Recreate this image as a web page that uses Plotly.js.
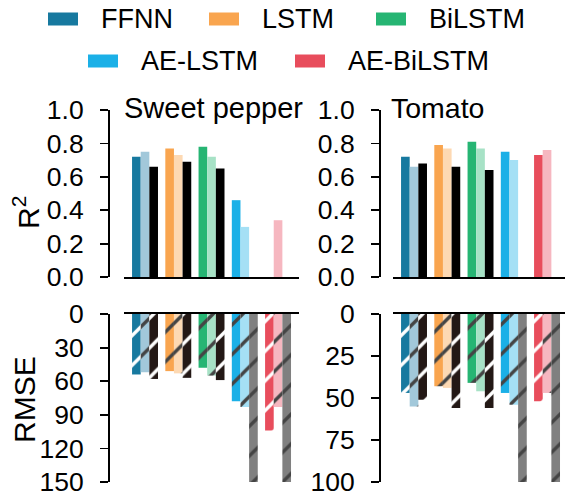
<!DOCTYPE html>
<html>
<head>
<meta charset="utf-8">
<script src="https://cdn.plot.ly/plotly-3.0.1.min.js"></script>
<style>
  html, body { margin: 0; padding: 0; background: #fff; }
  #chart { width: 565px; height: 498px; }
</style>
</head>
<body>
<div id="chart"></div>
<script>
// Model names (one bar group per model)
const models = ['FFNN', 'LSTM', 'BiLSTM', 'AE-LSTM', 'AE-BiLSTM'];
const crops = ['Sweet pepper', 'Tomato'];

// R² per model — three variants per model (A, B, C)
const r2PepperA = [0.72, 0.77, 0.78, 0.46, -0.20];
const r2PepperB = [0.75, 0.73, 0.72, 0.30, 0.34];
const r2PepperC = [0.66, 0.69, 0.65, -0.50, -0.50];
const r2TomatoA = [0.72, 0.79, 0.81, 0.75, 0.73];
const r2TomatoB = [0.66, 0.77, 0.77, 0.70, 0.76];
const r2TomatoC = [0.68, 0.66, 0.64, -0.30, -0.30];

// RMSE per model — same three variants
const rmsePepperA = [54, 51, 48, 78, 104];
const rmsePepperB = [52, 53, 55, 83, 83];
const rmsePepperC = [58, 57, 59, 160, 160];
const rmseTomatoA = [47, 43, 41, 47, 52];
const rmseTomatoB = [55, 44, 46, 54, 47];
const rmseTomatoC = [51, 56, 56, 110, 110];

// Axis ticks
const r2Ticks = [0, 0.2, 0.4, 0.6, 0.8, 1.0];
const rmsePepperTicks = [0, 30, 60, 90, 120, 150];
const rmseTomatoTicks = [0, 25, 50, 75, 100];

// Colours
const colA = ['#17799f', '#f9a54f', '#26b573', '#1bb0e7', '#e84d5c'];
const colB = ['#a2c8da', '#fdd9b3', '#a7e2c6', '#a5e0f5', '#f6b7c0'];
const colC_r2 = ['#000000', '#000000', '#000000', '#808080', '#808080'];
const colC_rmse = ['#231815', '#231815', '#231815', '#808080', '#808080'];

const W = 565, H = 498;
const px = x => x / W;
const py = y => 1 - y / H;
const FONT = 'Liberation Sans, Arial, Helvetica, sans-serif';

// White diagonal hatching laid over the bar colour
const hatch = { shape: '/', fillmode: 'overlay', fgcolor: '#ffffff', fgopacity: 1,
  size: 21, solidity: 0.16 };

function barTrace(xa, ya, y, colors, pattern) {
  const marker = { color: colors, line: { width: 0 } };
  if (pattern) marker.pattern = pattern;
  return {
    type: 'bar', x: models, y: y, xaxis: xa, yaxis: ya,
    marker: marker, showlegend: false, hoverinfo: 'x+y'
  };
}

const data = [
  barTrace('x', 'y', r2PepperA, colA),
  barTrace('x', 'y', r2PepperB, colB),
  barTrace('x', 'y', r2PepperC, colC_r2),
  barTrace('x2', 'y2', r2TomatoA, colA),
  barTrace('x2', 'y2', r2TomatoB, colB),
  barTrace('x2', 'y2', r2TomatoC, colC_r2),
  barTrace('x3', 'y3', rmsePepperA, colA, hatch),
  barTrace('x3', 'y3', rmsePepperB, colB, hatch),
  barTrace('x3', 'y3', rmsePepperC, colC_rmse, hatch),
  barTrace('x4', 'y4', rmseTomatoA, colA, hatch),
  barTrace('x4', 'y4', rmseTomatoB, colB, hatch),
  barTrace('x4', 'y4', rmseTomatoC, colC_rmse, hatch)
];

// Panel geometry (pixels)
const leftX = [124, 299], rightX = [393, 565];
const leftSpine = 108, rightSpine = 379;
const topY = [110, 277], botY = [314, 482];

function xAxis(dom, rng, anchor, side) {
  return {
    domain: [px(dom[0]), px(dom[1])], range: rng, anchor: anchor, side: side,
    showline: true, linecolor: '#000', linewidth: 1.8, mirror: false,
    showticklabels: false, ticks: '', showgrid: false, zeroline: false,
    fixedrange: true
  };
}
function yAxis(dom, rng, ticks, fmt, spine) {
  return {
    domain: [py(dom[1]), py(dom[0])], range: rng, anchor: 'free', position: px(spine),
    tickvals: ticks, tickformat: fmt, ticks: 'outside', ticklen: 8, tickwidth: 1.8,
    tickcolor: '#000', showline: true, linecolor: '#000', linewidth: 1.8,
    showgrid: false, zeroline: false, ticklabelstandoff: 11,
    tickfont: { size: 26.5, color: '#000', family: FONT }, fixedrange: true
  };
}

const annotations = [];
const shapes = [];

// Panel titles
annotations.push({ text: crops[0], xref: 'paper', yref: 'paper', x: px(122), y: py(108),
  xanchor: 'left', yanchor: 'middle', showarrow: false, font: { size: 29, family: FONT, color: '#000' } });
annotations.push({ text: crops[1], xref: 'paper', yref: 'paper', x: px(389), y: py(108),
  xanchor: 'left', yanchor: 'middle', showarrow: false, font: { size: 28.5, family: FONT, color: '#000' } });

// Y axis titles
annotations.push({ text: 'R<sup>2</sup>', xref: 'paper', yref: 'paper', x: px(26), y: py(213),
  xanchor: 'center', yanchor: 'middle', textangle: -90, showarrow: false,
  font: { size: 30, family: FONT, color: '#000' } });
annotations.push({ text: 'RMSE', xref: 'paper', yref: 'paper', x: px(24), y: py(400),
  xanchor: 'center', yanchor: 'middle', textangle: -90, showarrow: false,
  font: { size: 30, family: FONT, color: '#000' } });

// Legend: swatch + label per model, two centred rows
const legendSlots = [
  { sx: 48, y: 19 }, { sx: 209, y: 19 }, { sx: 376, y: 19 },
  { sx: 88, y: 61 }, { sx: 295, y: 61 }
];
models.forEach((m, i) => {
  const s = legendSlots[i];
  shapes.push({ type: 'rect', xref: 'paper', yref: 'paper',
    x0: px(s.sx), x1: px(s.sx + 30), y0: py(s.y + 6.5), y1: py(s.y - 6.5),
    fillcolor: colA[i], line: { width: 0 } });
  annotations.push({ text: m, xref: 'paper', yref: 'paper', x: px(s.sx + 51), y: py(s.y),
    xanchor: 'left', yanchor: 'middle', showarrow: false,
    font: { size: 27, family: FONT, color: '#000' } });
});

const xr = [-0.632, 4.63], xr2 = [-0.632, 4.54];

const layout = {
  width: W, height: H,
  margin: { l: 0, r: 0, t: 0, b: 0 },
  paper_bgcolor: '#fff', plot_bgcolor: '#fff',
  font: { family: FONT, color: '#000' },
  barmode: 'group', bargap: 0.22, bargroupgap: 0,
  showlegend: false,
  xaxis: xAxis(leftX, xr, 'y', 'bottom'),
  yaxis: yAxis(topY, [0, 1], r2Ticks, '.1f', leftSpine),
  xaxis2: xAxis(rightX, xr2, 'y2', 'bottom'),
  yaxis2: yAxis(topY, [0, 1], r2Ticks, '.1f', rightSpine),
  xaxis3: xAxis(leftX, xr, 'y3', 'top'),
  yaxis3: yAxis(botY, [150, 0], rmsePepperTicks, 'd', leftSpine),
  xaxis4: xAxis(rightX, xr2, 'y4', 'top'),
  yaxis4: yAxis(botY, [100, 0], rmseTomatoTicks, 'd', rightSpine),
  annotations: annotations,
  shapes: shapes
};

Plotly.newPlot('chart', data, layout, { displayModeBar: false, staticPlot: true });
</script>
</body>
</html>
